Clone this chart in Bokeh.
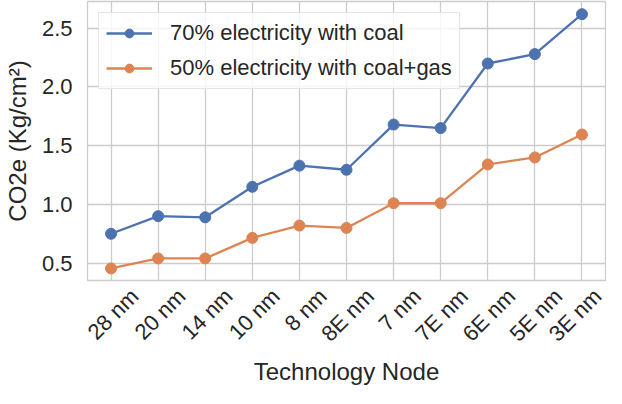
import math
from bokeh.plotting import figure
from bokeh.models import (ColumnDataSource, Range1d, Legend, LegendItem,
                          FixedTicker, NumeralTickFormatter, LinearAxis)
from bokeh.embed import file_html
from bokeh.resources import INLINE

nodes = ["28 nm", "20 nm", "14 nm", "10 nm", "8 nm", "8E nm", "7 nm", "7E nm", "6E nm", "5E nm", "3E nm"]
coal70 = [0.75, 0.90, 0.89, 1.15, 1.33, 1.295, 1.68, 1.65, 2.20, 2.28, 2.62]
coalgas50 = [0.455, 0.54, 0.54, 0.715, 0.82, 0.80, 1.01, 1.01, 1.34, 1.40, 1.595]
y_ticks = [0.5, 1.0, 1.5, 2.0, 2.5]

BLUE = "#4c72b0"
ORANGE = "#dd8452"
GRID = "#cccccc"
TXT = "#262626"
FONT = "Liberation Sans"
Y0, Y1 = 0.352, 2.728
LABEL_SHIFT = 0.5  # rotated labels are centred under their tick, as in matplotlib

n = len(nodes)
idx = list(range(n))  # category positions
src = ColumnDataSource(dict(x=idx, a=coal70, b=coalgas50))

p = figure(width=606, height=388, x_range=Range1d(-0.5, n - 0.5),
           y_range=Range1d(Y0, Y1),
           output_backend="svg", toolbar_location=None,
           min_border_left=10, min_border_right=1, min_border_top=1, min_border_bottom=10)

p.outline_line_color = GRID
p.outline_line_width = 1.3
p.background_fill_color = "white"
p.border_fill_color = "white"

# main x axis only drives the grid; the labels sit on a shifted copy
p.xaxis.ticker = FixedTicker(ticks=idx)
p.xaxis.visible = False
p.xgrid.ticker = FixedTicker(ticks=idx)

p.extra_x_ranges = {"lab": Range1d(-0.5 - LABEL_SHIFT, n - 0.5 - LABEL_SHIFT)}
xlab = LinearAxis(x_range_name="lab", ticker=FixedTicker(ticks=idx),
                  major_label_overrides={i: name for i, name in zip(idx, nodes)})
p.add_layout(xlab, "below")

for ax in (xlab, p.yaxis[0]):
    ax.axis_line_color = None
    ax.major_tick_line_color = None
    ax.minor_tick_line_color = None
    ax.major_tick_out = 0
    ax.major_tick_in = 0
    ax.major_label_text_font = FONT
    ax.major_label_text_font_size = "22px"
    ax.major_label_text_color = TXT
    ax.axis_label_text_font = FONT
    ax.axis_label_text_font_size = "24px"
    ax.axis_label_text_font_style = "normal"
    ax.axis_label_text_color = TXT

p.yaxis.ticker = FixedTicker(ticks=y_ticks)
p.yaxis.formatter = NumeralTickFormatter(format="0.0")
p.yaxis.major_label_standoff = 15
p.yaxis.axis_label = "CO2e (Kg/cm²)"
p.yaxis.axis_label_standoff = 8

xlab.major_label_orientation = math.pi / 4
xlab.major_label_standoff = 12
xlab.axis_label = "Technology Node"
xlab.axis_label_standoff = 0

p.xgrid.grid_line_color = GRID
p.ygrid.grid_line_color = GRID
p.xgrid.grid_line_width = 1.3
p.ygrid.grid_line_width = 1.3

la = p.line("x", "a", source=src, line_color=BLUE, line_width=2.3)
sa = p.scatter("x", "a", source=src, size=11, fill_color=BLUE, line_color=BLUE)
lb = p.line("x", "b", source=src, line_color=ORANGE, line_width=2.3)
sb = p.scatter("x", "b", source=src, size=11, fill_color=ORANGE, line_color=ORANGE)

legend = Legend(items=[
    LegendItem(label="70% electricity with coal", renderers=[la, sa]),
    LegendItem(label="50% electricity with coal+gas", renderers=[lb, sb]),
], location="top_left")
legend.margin = 11
legend.padding = 7
legend.spacing = 9
legend.glyph_width = 46
legend.glyph_height = 22
legend.label_height = 22
legend.label_standoff = 18
legend.label_text_font = FONT
legend.label_text_font_size = "22px"
legend.label_text_color = TXT
legend.border_line_color = GRID
legend.border_line_width = 1.2
legend.background_fill_color = "white"
legend.background_fill_alpha = 0.8
p.add_layout(legend)

open("out.html", "w").write(file_html(p, INLINE))
